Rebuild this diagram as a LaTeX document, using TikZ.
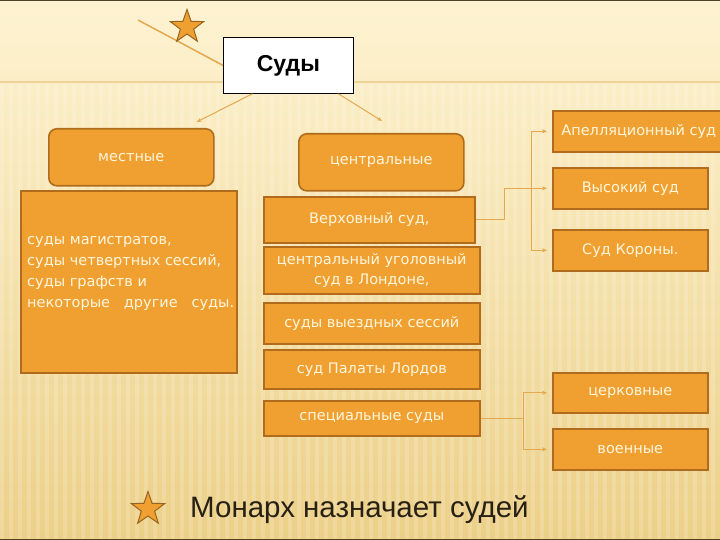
\documentclass[tikz,border=0pt]{standalone}
\usepackage{fontspec}
\setmainfont{DejaVu Sans}
\newfontfamily\arialfont{Liberation Sans}
\usetikzlibrary{positioning, shapes.geometric, arrows.meta, calc}

\definecolor{bgtop}{RGB}{254,243,210}
\definecolor{bgbot}{RGB}{236,208,136}
\definecolor{bgline}{RGB}{238,212,150}
\definecolor{framedark}{RGB}{80,66,40}
\definecolor{boxfill}{RGB}{240,160,48}
\definecolor{boxline}{RGB}{176,108,28}
\definecolor{boxtext}{RGB}{255,246,222}
\definecolor{linkcol}{RGB}{228,168,78}
\definecolor{starline}{RGB}{150,100,30}
\definecolor{bottomtext}{RGB}{40,32,18}

\tikzset{
	grp/.style={draw=boxline, fill=boxfill, rounded corners=8pt, line width=1.6pt, inner sep=0pt, text=boxtext, font=\fontsize{14.5}{17}\selectfont},
	court/.style={draw=boxline, fill=boxfill, line width=1.6pt, inner sep=0pt, align=center, text=boxtext, font=\fontsize{14.5}{20}\selectfont},
	titlebox/.style={draw=black, fill=white, line width=0.8pt, inner sep=0pt, font=\arialfont\bfseries\fontsize{23}{26}\selectfont},
	starmark/.style={star, star points=5, star point ratio=2.5, minimum size=35pt, inner sep=0pt, fill=boxfill, draw=starline, line width=1pt},
	link/.style={linkcol, line width=1pt},
	% background stripes
	stripe/.style={white, opacity=0.17}
}

\begin{document}
\begin{tikzpicture}[x=1pt, y=-1pt]
			\useasboundingbox (0,0) rectangle (720,540);
			\fill[top color=bgtop, bottom color=bgbot] (0,0) rectangle (720,540);
			\foreach \sx in {0,9,...,711}
				\fill[stripe] (\sx,84) rectangle ++(4,456);
			\draw[bgline, line width=1.2pt] (0,82) -- (720,82);
			\draw[framedark, line width=2.5pt] (0,0) -- (720,0);
			\draw[framedark, line width=2pt] (0,540) -- (720,540);
			
			\node (sudy) [titlebox, anchor=north west, minimum width=130pt, minimum height=56pt] at (223,37) {Суды};
			\coordinate (diagA) at (138,20);
			\draw[linkcol, line width=1.5pt] (diagA) -- (sudy.west);
			\node (starTop) [starmark] at (187,27) {};
			
			\node (mest) [grp, anchor=north west, minimum width=165pt, minimum height=57pt] at (48,128) {местные};
			\node (centr) [grp, anchor=north west, minimum width=165pt, minimum height=57pt] at (298,133) {центральные};
			
			\node (local) [court, anchor=north west, minimum width=216pt, minimum height=182pt] at (20,190) {};
			\node (localtxt) [anchor=west, align=left, inner sep=0pt, text=boxtext, font=\fontsize{14.5}{21}\selectfont] at (27,273) {суды магистратов,\\суды четвертных сессий,\\суды графств и\\некоторые\ \ \ другие\ \ \ суды.};
			
			\node (verh) [court, anchor=north west, minimum width=211pt, minimum height=46pt] at (263,196) {Верховный суд,};
			\node (ugol) [court, below=2.4pt of verh.south west, anchor=north west, minimum width=216pt, minimum height=47pt] {центральный уголовный\\суд в Лондоне,};
			\node (vyezd) [court, below=7.4pt of ugol.south west, anchor=north west, minimum width=216pt, minimum height=41pt] {суды выездных сессий};
			\node (lords) [court, below=4.4pt of vyezd.south west, anchor=north west, minimum width=216pt, minimum height=39pt] {суд Палаты Лордов};
			\node (spec) [court, below=10.4pt of lords.south west, anchor=north west, minimum width=216pt, minimum height=35pt] {специальные суды};
			
			\node (apel) [court, anchor=north west, minimum width=172pt, minimum height=41pt] at (552,110) {Апелляционный суд};
			\node (vys) [court, below=14.4pt of apel.south west, anchor=north west, minimum width=155pt, minimum height=41pt] {Высокий суд};
			\node (kor) [court, below=19.4pt of vys.south west, anchor=north west, minimum width=155pt, minimum height=41pt] {Суд Короны.};
			\node (cerk) [court, anchor=north west, minimum width=155pt, minimum height=40pt] at (552,372) {церковные};
			\node (voen) [court, below=14.4pt of cerk.south west, anchor=north west, minimum width=155pt, minimum height=41pt] {военные};
			
			\node (starLow) [starmark] at (148,509) {};
			\node (monarh) [anchor=west, inner sep=0pt, text=bottomtext, font=\arialfont\fontsize{29.5}{33}\selectfont] at (190,510) {Монарх назначает судей};
			
			\begin{scope}[link, ->, >={Stealth[length=5pt, width=4pt]}]
				\draw ($(sudy.south)+(-36,0)$) -- ($(mest.north east)+(-18,-6)$);
				\draw ($(sudy.south)+(50,0)$) -- ($(centr.north west)+(84,-12)$);
				\draw[-] (verh.east) -- ++(29,0) |- ($(vys.west)+(-21,0)$) coordinate (jTop);
				\draw[shorten >=5pt] (jTop) |- (apel.west);
				\draw[shorten >=5pt] (jTop) -- (vys.west);
				\draw[shorten >=5pt] (jTop) |- (kor.west);
				\draw[-] (spec.east) -- ++(43,0) coordinate (jLow);
				\draw[shorten >=5pt] (jLow) |- (cerk.west);
				\draw[shorten >=5pt] (jLow) |- (voen.west);
			\end{scope}
\end{tikzpicture}
\end{document}
